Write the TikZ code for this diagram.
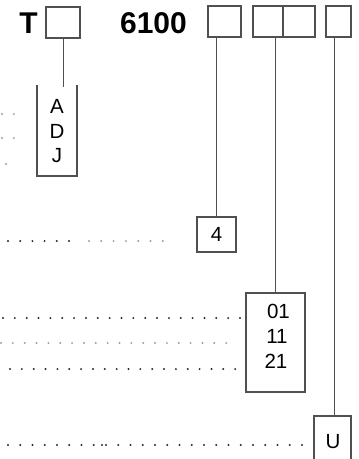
\documentclass[tikz,border=0pt]{standalone}
\usepackage{fontspec}
\setmainfont{Liberation Sans}
\definecolor{boxgray}{HTML}{505050}
\definecolor{dotdark}{HTML}{2A2A2A}
\definecolor{dotlight}{HTML}{A0A0A0}
\begin{document}
\begin{tikzpicture}[x=1pt,y=-1pt,
  cell/.style={draw=boxgray, line width=1.2pt, inner sep=0pt, minimum height=31pt},
  valbox/.style={draw=boxgray, line width=1.2pt, inner sep=0pt},
  conn/.style={draw=boxgray, line width=1pt},
  big/.style={font=\bfseries\fontsize{30}{30}\selectfont, inner sep=0pt, anchor=base},
  val/.style={font=\fontsize{20.5}{20.5}\selectfont, inner sep=0pt, anchor=base},
  leader/.style={line width=2.2pt, line cap=round, dash pattern=on 0pt off #1},
  leader/.default=11.85pt]
\useasboundingbox (0,0) rectangle (359,459);
\clip (0,0) rectangle (359,459);
\fill[white] (0,0) rectangle (359,459);

% top row
\node[big] (T) at (28.5,33) {T};
\node[cell, minimum width=34pt] (b1) at (63,22.5) {};
\node[big] (num) at (153.5,33) {6100};
\node[cell, minimum width=33pt] (b2) at (224.5,21.5) {};
\node[cell, minimum width=30pt] (b3a) at (268,21.5) {};
\node[cell, minimum width=32pt] (b3b) at (299,21.5) {};
\node[cell, minimum width=25pt] (b5) at (338.5,21.5) {};

% A D J bracket
\coordinate (adjtop) at (64,87);
\draw[valbox] (37,85) -- (37,176) -- (77,176) -- (77,85);
\node[val] (vA) at (57,113) {A};
\node[val] (vD) at (57,138) {D};
\node[val] (vJ) at (57,162) {J};
\draw[conn] (b1.south) -- (b1.south |- adjtop);

% box 4
\node[valbox, minimum width=39pt, minimum height=35pt, font=\fontsize{20.5}{20.5}\selectfont] (n4) at (216.5,234.5) {4};
\draw[conn] (n4.north) -- (n4.north |- b2.south);

% box 01 11 21
\node[valbox, minimum width=59pt, minimum height=99pt] (n01) at (275.5,342.5) {};
\node[val] (v01) at (278.5,318) {01};
\node[val] (v11) at (277,343) {11};
\node[val] (v21) at (276,368) {21};
\draw[conn] (n01.north) -- (n01.north |- b3a.south);

% box U
\node[valbox, minimum width=37pt, minimum height=54pt] (nU) at (332.5,443) {};
\node[val] (vU) at (333,448) {U};
\coordinate (uconn) at (334,416);
\draw[conn] (uconn) -- (uconn |- b5.south);

% leaders
\coordinate (la0) at (2,114);   \coordinate (la1) at (15,114);
\coordinate (ld0) at (2,138);   \coordinate (ld1) at (15,138);
\coordinate (lj0) at (6,164);   \coordinate (lj1) at (7,164);
\draw[leader, dotlight] (la0) -- (la1);
\draw[leader, dotlight] (ld0) -- (ld1);
\draw[leader, dotlight] (lj0) -- (lj1);

\coordinate (l40) at (8,241);   \coordinate (l41) at (70,241);
\coordinate (l42) at (89,241);  \coordinate (l43) at (164,241);
\draw[leader=12.2pt, dotdark] (l40) -- (l41);
\draw[leader=12.3pt, dotlight] (l42) -- (l43);

\coordinate (l010) at (3,318);  \coordinate (l011) at (241,318);
\coordinate (l110) at (1,343);  \coordinate (l111) at (234,343);
\coordinate (l210) at (10,369); \coordinate (l211) at (238,369);
\draw[leader, dotdark] (l010) -- (l011);
\draw[leader, dotlight] (l110) -- (l111);
\draw[leader, dotdark] (l210) -- (l211);

\coordinate (lu0) at (8,445);   \coordinate (lu1) at (303,445);
\draw[leader=12.25pt, dotdark] (lu0) -- (lu1);
\fill[dotdark] (102,445) circle (1.1pt);
\end{tikzpicture}
\end{document}
